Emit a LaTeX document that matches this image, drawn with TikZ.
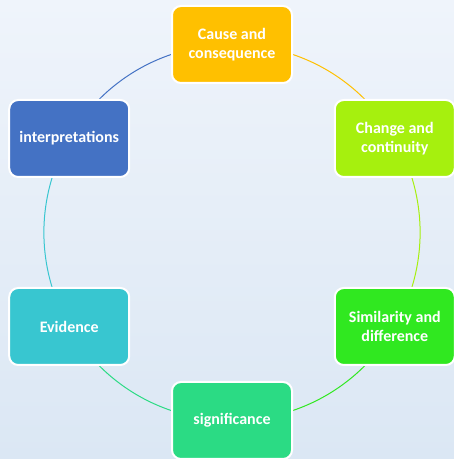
\documentclass[tikz,border=0pt]{standalone}
\usepackage{fontspec}
\setmainfont{Carlito}
\usetikzlibrary{backgrounds,calc}
\definecolor{bgtop}{HTML}{EFF4FB}
\definecolor{bgbot}{HTML}{DBE7F4}
\definecolor{cCause}{HTML}{FFC000}
\definecolor{cChange}{HTML}{A6F00E}
\definecolor{cSim}{HTML}{30E820}
\definecolor{cSig}{HTML}{2BDB84}
\definecolor{cEvid}{HTML}{38C6D0}
\definecolor{cInter}{HTML}{4472C4}
\begin{document}
\begin{tikzpicture}[x=1pt,y=1pt,
  stage/.style={draw=white, line width=2pt, rounded corners=9pt,
    minimum width=120pt, minimum height=77pt, align=center, text=white,
    font=\fontsize{16}{18.5}\selectfont\bfseries, inner sep=2pt},
  link/.style={line width=1pt, bend left=30, looseness=0.92}]
\useasboundingbox (0,0) rectangle (454,459);
\coordinate (O) at (232,226.5);
\node[stage, fill=cCause] (cause) at ($(O)+(90:188)$) {Cause and\\consequence};
\node[stage, fill=cChange] (change) at ($(O)+(30:188)$) {Change and\\continuity};
\node[stage, fill=cSim] (sim) at ($(O)+(-30:188)$) {Similarity and\\difference};
\node[stage, fill=cSig] (sig) at ($(O)+(-90:188)$) {significance};
\node[stage, fill=cEvid] (evid) at ($(O)+(-150:188)$) {Evidence};
\node[stage, fill=cInter] (inter) at ($(O)+(150:188)$) {interpretations};
\begin{scope}[on background layer]
\shade[top color=bgtop, bottom color=bgbot] (0,0) rectangle (454,459);
\draw[link, cCause] (cause.center) to (change.center);
\draw[link, cChange] (change.center) to (sim.center);
\draw[link, cSim] (sim.center) to (sig.center);
\draw[link, cSig] (sig.center) to (evid.center);
\draw[link, cEvid] (evid.center) to (inter.center);
\draw[link, cInter] (inter.center) to (cause.center);
\end{scope}
\end{tikzpicture}
\end{document}
